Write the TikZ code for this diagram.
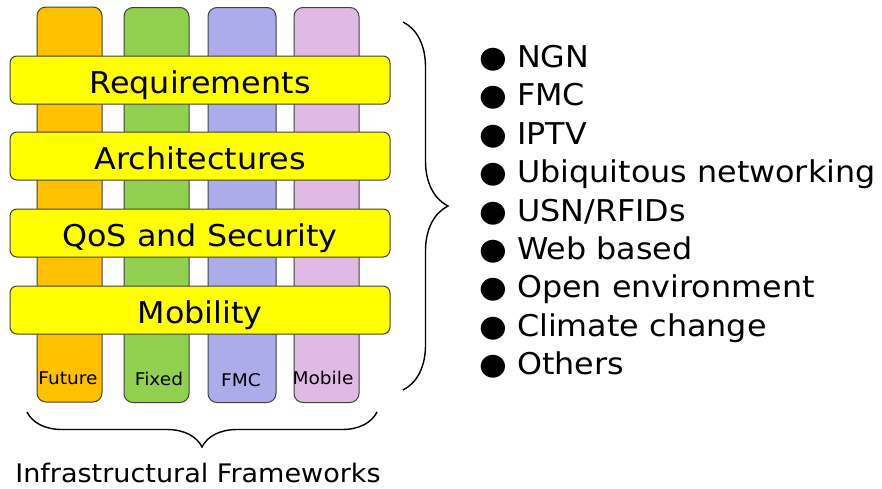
\documentclass[tikz,border=0pt]{standalone}
\usepackage{fontspec}
\setmainfont[FakeStretch=1.06]{DejaVu Sans}
\usetikzlibrary{decorations.pathreplacing}
\definecolor{cfut}{RGB}{255,192,0}
\definecolor{cfix}{RGB}{146,208,80}
\definecolor{cfmc}{RGB}{172,172,234}
\definecolor{cmob}{RGB}{224,186,228}
\definecolor{cbar}{RGB}{255,255,0}
\definecolor{cedge}{RGB}{64,64,64}
\begin{document}
\begin{tikzpicture}[x=1pt,y=-1pt,
  colbox/.style={draw=cedge,line width=1pt,rounded corners=9pt,minimum width=65pt,minimum height=395pt,inner sep=0pt},
  barbox/.style={draw=cedge,line width=1pt,fill=cbar,rounded corners=7pt,minimum width=380pt,minimum height=48pt,inner sep=0pt,text height=26pt,text depth=0pt,font=\fontsize{30}{34}\selectfont},
  collabel/.style={inner sep=0pt,text height=13pt,text depth=0pt,font=\fontsize{17.5}{20}\selectfont},
  item/.style={anchor=west,inner sep=0pt,text height=22pt,text depth=0pt,font=\fontsize{30}{34}\selectfont},
  bracedeco/.style={draw=black,line width=1.4pt,decorate}
]
\useasboundingbox (0,0) rectangle (882,488);
\node[colbox,fill=cfut] (cfuture) at (69.5,204.5) {};
\node[colbox,fill=cfix] (cfixed) at (156.5,205) {};
\node[colbox,fill=cfmc,minimum width=68pt] (cfmcn) at (242,205) {};
\node[colbox,fill=cmob] (cmobile) at (326.5,205) {};
\node[collabel] (lfut) at (68,377.5) {Future};
\node[collabel] (lfix) at (159,378.5) {Fixed};
\node[collabel] (lfmc) at (241,380) {FMC};
\node[collabel] (lmob) at (323,378) {Mobile};
\node[barbox] (req) at (200,80) {Requirements};
\node[barbox] (arch) at (200,156) {Architectures};
\node[barbox] (qos) at (200,233) {QoS and Security};
\node[barbox] (mob) at (200,310) {Mobility};
\coordinate (bl) at (27,412);
\coordinate (br) at (377,412);
\draw[bracedeco,decoration={brace,amplitude=35pt}] (br) -- (bl);
\node[inner sep=0pt,text height=20pt,text depth=0pt,font=\fontsize{25.5}{30}\selectfont] (infra) at (198,472) {Infrastructural Frameworks};
\coordinate (rt) at (403,22);
\coordinate (rb) at (403,390);
\draw[bracedeco,decoration={brace,amplitude=45pt}] (rt) -- (rb);
\node[item] (i1) at (479,56) {● NGN};
\node[item] (i2) at (479,94.5) {● FMC};
\node[item] (i3) at (479,133) {● IPTV};
\node[item] (i4) at (479,171.5) {● Ubiquitous networking};
\node[item] (i5) at (479,210) {● USN/RFIDs};
\node[item] (i6) at (479,248) {● Web based};
\node[item] (i7) at (479,286.5) {● Open environment};
\node[item] (i8) at (479,325) {● Climate change};
\node[item] (i9) at (479,363) {● Others};
\end{tikzpicture}
\end{document}
